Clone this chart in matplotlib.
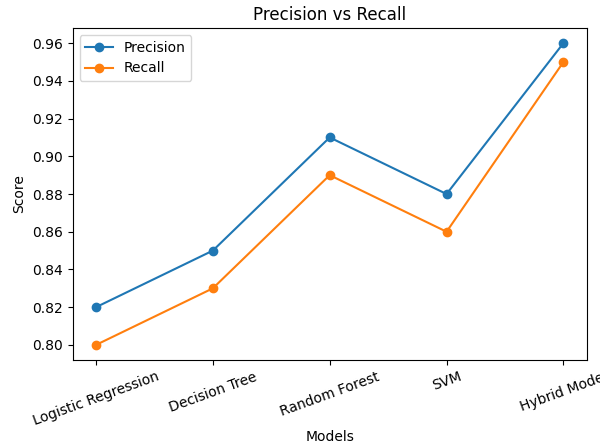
import numpy as np
import matplotlib
matplotlib.use("Agg")
import matplotlib.pyplot as plt

models = ["Logistic Regression", "Decision Tree", "Random Forest", "SVM", "Hybrid Model"]
precision = [0.82, 0.85, 0.91, 0.88, 0.96]
recall = [0.80, 0.83, 0.89, 0.86, 0.95]

fig = plt.figure(figsize=(6, 4.45), dpi=100)
ax = fig.add_axes([0.121, 0.191, 0.857, 0.746])

ax.plot(models, precision, marker='o', label='Precision')
ax.plot(models, recall, marker='o', label='Recall')

ax.set_title('Precision vs Recall')
ax.set_xlabel('Models', labelpad=1)
ax.set_ylabel('Score')
plt.xticks(rotation=20)
ax.legend(loc='upper left')

plt.savefig('out.png')
plt.close()
